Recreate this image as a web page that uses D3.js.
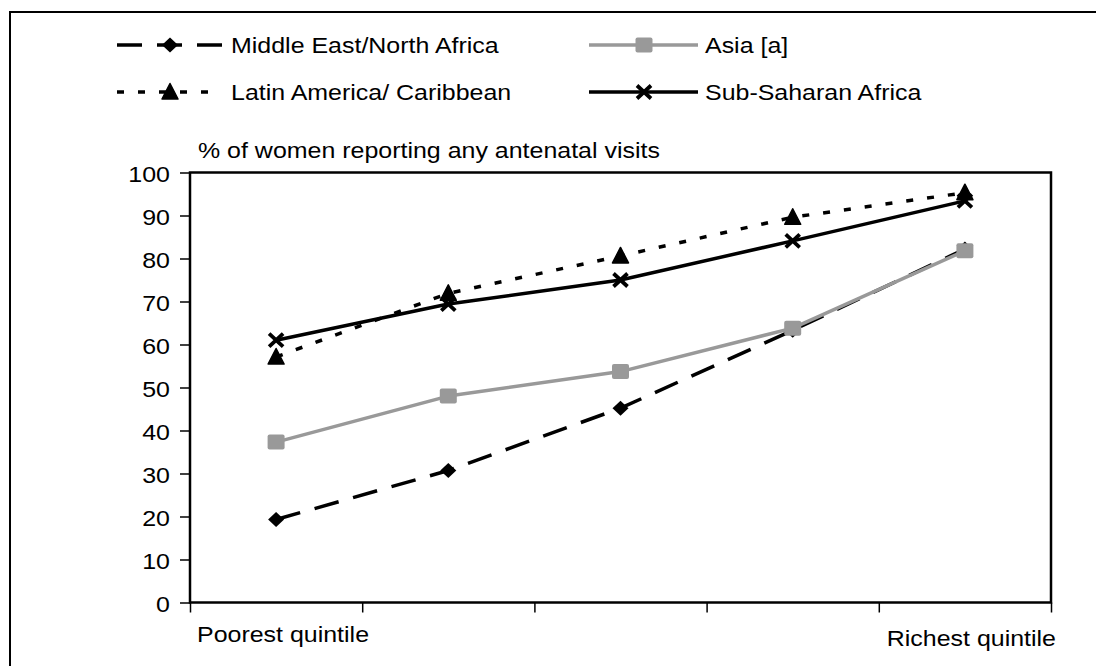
<!DOCTYPE html>
<html>
<head>
<meta charset="utf-8">
<script src="https://cdn.jsdelivr.net/npm/d3@7"></script>
<style>
  html, body { margin: 0; padding: 0; background: #fff; }
  svg { display: block; }
  text { font-family: "Liberation Sans", Arial, sans-serif; font-size: 22.5px; fill: #000; }
</style>
</head>
<body>
<svg id="chart" width="1096" height="666"></svg>
<script>
// ---- Data ----
const categories = ["Q1", "Q2", "Q3", "Q4", "Q5"];
const xEndLabels = ["Poorest quintile", "Richest quintile"];
const yTicks = [0, 10, 20, 30, 40, 50, 60, 70, 80, 90, 100];
const yTitle = "% of women reporting any antenatal visits";

const menaValues = [19.3, 30.7, 45.2, 63.3, 82.2];
const asiaValues = [37.3, 48.0, 53.7, 63.8, 81.8];
const lacValues  = [57.1, 71.9, 80.6, 89.6, 95.3];
const ssaValues  = [61.0, 69.4, 75.0, 84.1, 93.4];

const seriesNames = ["Middle East/North Africa", "Asia [a]", "Latin America/ Caribbean", "Sub-Saharan Africa"];

// ---- Styles ----
const SX = 1.11; // horizontal text stretch
const styles = {
  "Middle East/North Africa": { color: "#000", dash: "25,15", width: 3.5, marker: "diamond" },
  "Asia [a]": { color: "#999999", dash: null, width: 3.5, marker: "square" },
  "Latin America/ Caribbean": { color: "#000", dash: "7,14", width: 3.5, marker: "triangle" },
  "Sub-Saharan Africa": { color: "#000", dash: null, width: 3.5, marker: "x" }
};
const seriesValues = {
  "Middle East/North Africa": menaValues,
  "Asia [a]": asiaValues,
  "Latin America/ Caribbean": lacValues,
  "Sub-Saharan Africa": ssaValues
};

const svg = d3.select("#chart");

// outer frame (extends beyond the visible area on right/bottom)
svg.append("rect").attr("x", 10).attr("y", 12).attr("width", 1110).attr("height", 700)
  .attr("fill", "none").attr("stroke", "#000").attr("stroke-width", 2);

const plot = { left: 190, right: 1051, top: 172.5, bottom: 602.5 };

const xl = d3.scaleLinear().domain([0, categories.length]).range([plot.left, plot.right]);
const y = d3.scaleLinear().domain([0, 100]).range([plot.bottom, plot.top]);
const xc = i => xl(i + 0.5);

function stretchedText(sel, x, yy, txt, anchor) {
  return sel.append("text")
    .attr("transform", `translate(${x},${yy}) scale(${SX},1)`)
    .attr("text-anchor", anchor || "start")
    .text(txt);
}

// y axis
const yAxis = svg.append("g").attr("transform", `translate(${plot.left},0)`)
  .call(d3.axisLeft(y).tickValues(yTicks).tickSize(10).tickFormat(d3.format("d")));
yAxis.select(".domain").remove();
yAxis.selectAll(".tick line").attr("stroke", "#000").attr("stroke-width", 1.5);
yAxis.selectAll(".tick text")
  .attr("x", -20 / SX).attr("dy", "0.42em")
  .attr("transform", `scale(${SX},1)`)
  .style("font-size", "22.5px").style("font-family", "'Liberation Sans', Arial, sans-serif").attr("fill", "#000");

// x axis ticks at category boundaries
const xAxis = svg.append("g").attr("transform", `translate(0,${plot.bottom})`)
  .call(d3.axisBottom(xl).tickValues(d3.range(categories.length + 1)).tickSize(10).tickFormat(""));
xAxis.select(".domain").remove();
xAxis.selectAll(".tick line").attr("stroke", "#000").attr("stroke-width", 1.5);

// plot frame
svg.append("rect")
  .attr("x", plot.left).attr("y", plot.top)
  .attr("width", plot.right - plot.left).attr("height", plot.bottom - plot.top)
  .attr("fill", "none").attr("stroke", "#000").attr("stroke-width", 2.5);

// titles / labels
stretchedText(svg, 198, 158, yTitle);
stretchedText(svg, 197, 642, xEndLabels[0], "start");
stretchedText(svg, 1056, 646, xEndLabels[1], "end");

// markers
function drawMarker(g, type, cx, cy, color) {
  if (type === "diamond") {
    g.append("path").attr("d", `M${cx},${cy - 7.5} L${cx + 8},${cy} L${cx},${cy + 7.5} L${cx - 8},${cy} Z`)
      .attr("fill", color);
  } else if (type === "square") {
    g.append("rect").attr("x", cx - 8.5).attr("y", cy - 7.5).attr("width", 17).attr("height", 15)
      .attr("rx", 2).attr("fill", color);
  } else if (type === "triangle") {
    g.append("path").attr("d", `M${cx},${cy - 8.5} L${cx + 8},${cy + 7} L${cx - 8},${cy + 7} Z`)
      .attr("fill", color).attr("stroke", color).attr("stroke-width", 1.5).attr("stroke-linejoin", "round");
  } else if (type === "x") {
    g.append("path").attr("d", `M${cx - 7},${cy - 6.5} L${cx + 7},${cy + 6.5} M${cx + 7},${cy - 6.5} L${cx - 7},${cy + 6.5}`)
      .attr("stroke", color).attr("stroke-width", 3.8).attr("fill", "none");
  }
}

// series
const line = d3.line().x((d, i) => xc(i)).y(d => y(d));
seriesNames.forEach(name => {
  const st = styles[name];
  const vals = seriesValues[name];
  const g = svg.append("g");
  g.append("path").datum(vals).attr("d", line)
    .attr("fill", "none").attr("stroke", st.color).attr("stroke-width", st.width)
    .attr("stroke-dasharray", st.dash).attr("stroke-linejoin", "round");
  vals.forEach((v, i) => drawMarker(g, st.marker, xc(i), y(v), st.color));
});

// legend
const legendPos = [
  { name: "Middle East/North Africa", x1: 117, x2: 222, m: 170, tx: 231, y: 45 },
  { name: "Asia [a]", x1: 589, x2: 698, m: 644, tx: 705, y: 45 },
  { name: "Latin America/ Caribbean", x1: 117, x2: 222, m: 170, tx: 231, y: 92 },
  { name: "Sub-Saharan Africa", x1: 589, x2: 698, m: 644, tx: 705, y: 92 }
];
const lg = svg.append("g");
legendPos.forEach(p => {
  const st = styles[p.name];
  lg.append("line").attr("x1", p.x1).attr("x2", p.x2).attr("y1", p.y).attr("y2", p.y)
    .attr("stroke", st.color).attr("stroke-width", st.width).attr("stroke-dasharray", st.dash);
  drawMarker(lg, st.marker, p.m, p.y, st.color);
  stretchedText(lg, p.tx, p.y + 8, p.name, "start");
});
</script>
</body>
</html>
